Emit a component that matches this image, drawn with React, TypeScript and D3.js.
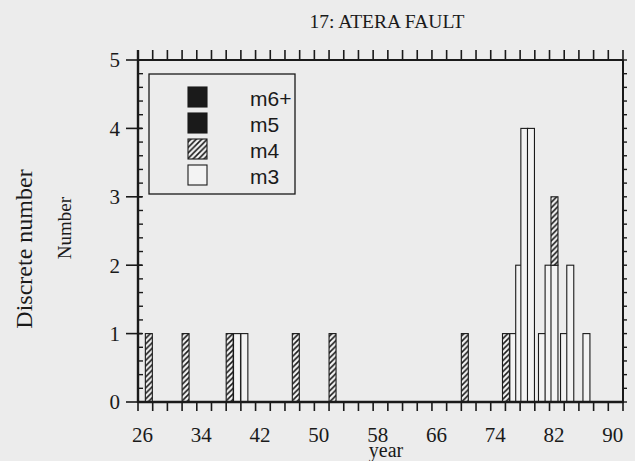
import React from "react";
import * as d3 from "d3";

const title = "17: ATERA FAULT";
const barYears = [27, 32, 38, 39, 40, 47, 52, 70, 75.6, 76.6, 77.4, 78.1, 79.0, 80.5, 81.4, 82.2, 83.5, 84.35, 86.55];
const m3Counts = [0, 0, 0, 1, 1, 0, 0, 0, 0, 1, 2, 4, 4, 1, 2, 2, 1, 2, 1];
const m4Counts = [1, 1, 1, 0, 0, 1, 1, 1, 1, 0, 0, 0, 0, 0, 0, 1, 0, 0, 0];
const xTickLabels = [26, 34, 42, 50, 58, 66, 74, 82, 90];
const yTickLabels = [0, 1, 2, 3, 4, 5];
const legendLabels = ["m6+", "m5", "m4", "m3"];

const BG = "#ececec";
const INK = "#1a1a1a";

export default function App() {
  const W = 635, H = 461;
  const left = 138, right = 623, top = 60, bottom = 402;
  const x = d3.scaleLinear().domain([26, 92]).range([left, right]);
  const y = d3.scaleLinear().domain([0, 5]).range([bottom, top]);
  const barW = x(26.95) - x(26);

  const minorX = d3.range(26, 93, 2);
  const minorY = d3.range(0, 5.001, 0.2);

  const legendFills = [INK, INK, "url(#hatch)", "#f3f3f3"];

  return (
    <svg width={W} height={H} style={{ position: "absolute", left: 0, top: 0 }}>
      <defs>
        <pattern id="hatch" patternUnits="userSpaceOnUse" width="5.5" height="5.5">
          <rect width="5.5" height="5.5" fill="#f3f3f3" />
          <path d="M-1,6.5 L6.5,-1" stroke={INK} strokeWidth="1.6" />
          <path d="M-1,1 L1,-1 M4.5,6.5 L6.5,4.5" stroke={INK} strokeWidth="1.6" />
        </pattern>
      </defs>
      <rect x={0} y={0} width={W} height={H} fill={BG} />

      {/* title */}
      <text x={387} y={28} textAnchor="middle" fontFamily="Liberation Serif" fontSize={19.5} fill={INK}>
        {title}
      </text>

      {/* axis titles */}
      <text transform="translate(32,249) rotate(-90)" textAnchor="middle" fontFamily="Liberation Serif" fontSize={24} fill={INK}>
        Discrete number
      </text>
      <text transform="translate(71,228) rotate(-90)" textAnchor="middle" fontFamily="Liberation Serif" fontSize={19} fill={INK}>
        Number
      </text>

      {/* bars */}
      {barYears.map((yr, i) => {
        const x0 = x(yr);
        const a = m3Counts[i];
        const b = m4Counts[i];
        return (
          <g key={i}>
            {a > 0 && (
              <rect x={x0} y={y(a)} width={barW} height={y(0) - y(a)} fill="#f3f3f3" stroke={INK} strokeWidth={1.1} />
            )}
            {b > 0 && (
              <rect x={x0} y={y(a + b)} width={barW} height={y(a) - y(a + b)} fill="url(#hatch)" stroke={INK} strokeWidth={1.1} />
            )}
          </g>
        );
      })}

      {/* frame */}
      <line x1={left} x2={right} y1={top} y2={top} stroke={INK} strokeWidth={2} />
      <line x1={right} x2={right} y1={top} y2={bottom} stroke={INK} strokeWidth={2} />
      <line x1={left} x2={right + 1} y1={bottom} y2={bottom} stroke={INK} strokeWidth={2.4} />
      <line x1={left} x2={left} y1={top - 10} y2={bottom + 1} stroke={INK} strokeWidth={2.4} />

      {/* x ticks bottom & top */}
      {minorX.map((v) => (
        <g key={"xt" + v}>
          <line x1={x(v)} x2={x(v)} y1={bottom} y2={bottom + 9} stroke={INK} strokeWidth={1.6} />
          <line x1={x(v)} x2={x(v)} y1={top} y2={top - 10} stroke={INK} strokeWidth={1.6} />
        </g>
      ))}
      {xTickLabels.map((v) => (
        <text key={"xl" + v} x={x(v) + 4.5} y={442} textAnchor="middle" fontFamily="Liberation Serif" fontSize={21} fill={INK}>
          {v}
        </text>
      ))}
      <text x={386} y={457} textAnchor="middle" fontFamily="Liberation Serif" fontSize={20} fill={INK}>
        year
      </text>

      {/* y ticks */}
      {minorY.map((v, i) => (
        <g key={"yt" + i}>
          <line x1={left} x2={left + 5} y1={y(v)} y2={y(v)} stroke={INK} strokeWidth={1.4} />
          <line x1={right} x2={right + 4} y1={y(v)} y2={y(v)} stroke={INK} strokeWidth={1.4} />
        </g>
      ))}
      {yTickLabels.map((v) => (
        <g key={"yl" + v}>
          <line x1={left - 12} x2={left + 4} y1={y(v)} y2={y(v)} stroke={INK} strokeWidth={1.6} />
          <text x={120} y={y(v)} dy="0.35em" textAnchor="end" fontFamily="Liberation Serif" fontSize={21} fill={INK}>
            {v}
          </text>
        </g>
      ))}

      {/* legend */}
      <rect x={149} y={74} width={146} height={120} fill="none" stroke={INK} strokeWidth={1.3} />
      {legendLabels.map((lab, i) => (
        <g key={lab}>
          <rect x={188} y={87 + i * 26} width={19} height={20} fill={legendFills[i]} stroke={INK} strokeWidth={1.1} />
          <text x={250} y={106 + i * 26} fontFamily="Liberation Sans" fontSize={21} fill={INK}>
            {lab}
          </text>
        </g>
      ))}
    </svg>
  );
}
